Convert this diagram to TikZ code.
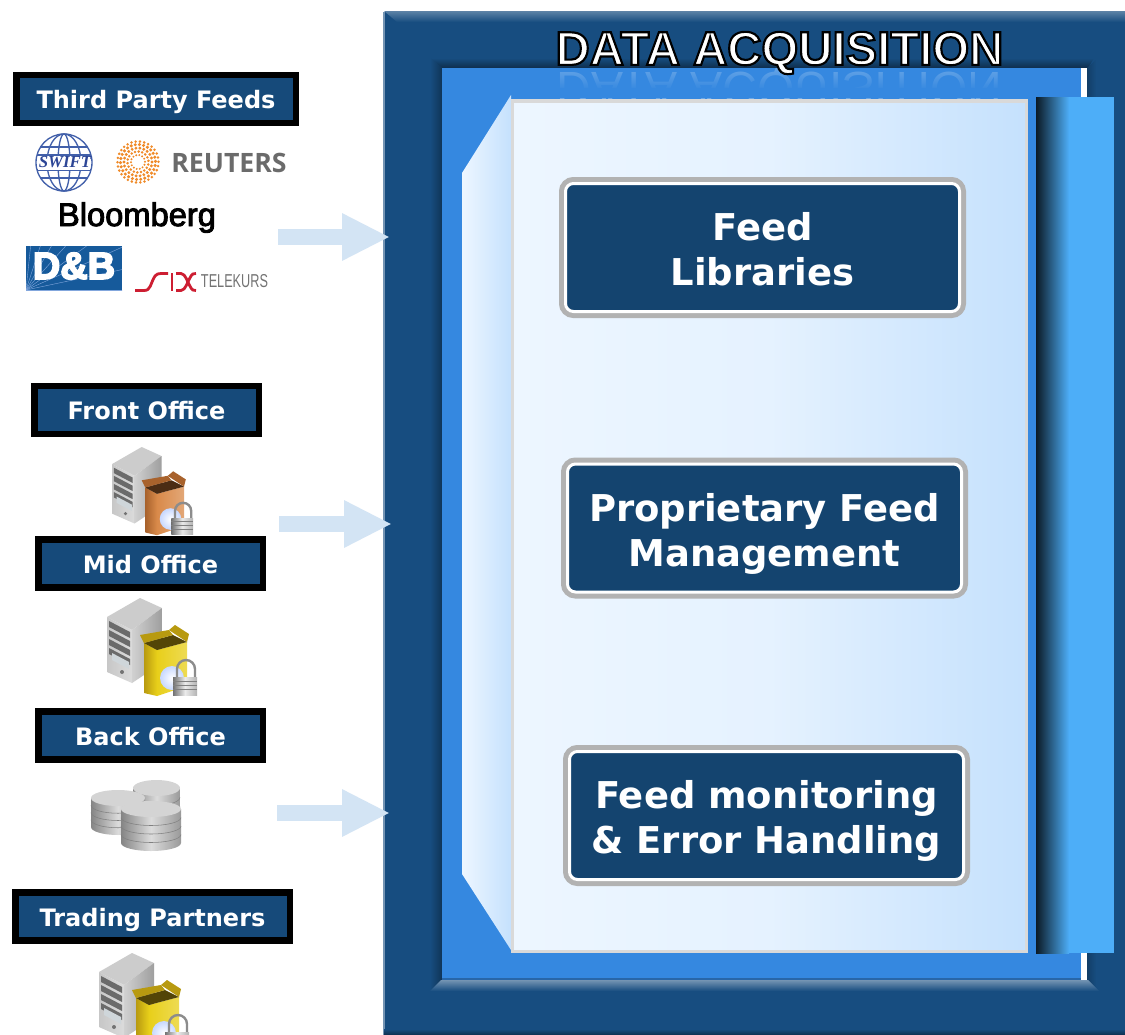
\documentclass[tikz,border=0pt]{standalone}
\usepackage{fontspec}
\usetikzlibrary{arrows.meta,fadings}
\setmainfont{DejaVu Sans}
\newfontfamily\arialf{Liberation Sans}
\newfontfamily\serfi{Liberation Serif}
\newfontfamily\openf{Open Sans}
\def\pxu{.75pt}
\definecolor{navy}{HTML}{14446F}
\definecolor{lblnavy}{HTML}{164A7A}
\definecolor{frameblue}{HTML}{174D80}
\definecolor{innerblue}{HTML}{3588E0}
\definecolor{arrowblue}{HTML}{D3E4F4}
\definecolor{barblue}{HTML}{4DAEF8}
\definecolor{pageL}{HTML}{EDF6FF}
\definecolor{pageR}{HTML}{C5E1FD}
\definecolor{reuterso}{HTML}{F08A28}
\definecolor{boxorange}{HTML}{D98A4A}
\definecolor{boxorangeD}{HTML}{A8622C}
\definecolor{boxyellow}{HTML}{E8CF1A}
\definecolor{boxyellowD}{HTML}{B89A10}
\colorlet{boxgrey}{black!30}
\tikzset{
  label box/.style={draw=black,fill=lblnavy,line width=6.5*\pxu,text=white,inner sep=0pt,outer sep=0pt,
    text height=14.64pt,text depth=0pt,font=\bfseries\fontsize{18pt}{20pt}\selectfont},
  feed box/.style={preaction={draw=boxgrey,line width=13*\pxu},draw=white,line width=3*\pxu,fill=navy,rounded corners=6pt,
    text=white,inner sep=0pt,outer sep=0pt,minimum width=394*\pxu,minimum height=128*\pxu,align=center,
    text height=57pt,text depth=0pt,font=\bfseries\fontsize{27.7pt}{33.75pt}\selectfont},
  flow arrow/.style={draw=arrowblue,line width=16*\pxu,-{Triangle[length=48*\pxu,width=44*\pxu]}},
  pics/servericon/.style 2 args={code={
    \fill[black!20] (0,19)--(33,0)--(55,10)--(25,32)--cycle;
    \shade[left color=black!22,right color=black!14] (0,19)--(25,32)--(25,85)--(0,74)--cycle;
    \shade[left color=black!18,right color=black!38] (25,32)--(55,10)--(55,65)--(25,85)--cycle;
    \foreach \v in {0,9,18,27}{\fill[black!58] (2,23+\v)--(23,34+\v)--(23,40+\v)--(2,29+\v)--cycle;}
    \fill[cyan!25!black!22] (5,55)--(22,64)--(22,71)--(5,62)--cycle;
    \fill[black!55] (15,74) circle (2);
    \shade[left color=#2,right color=#1] (37,45)--(50,52)--(50,98)--(37,95)--cycle;
    \shade[left color=#1,right color=#1!75!white] (50,52)--(80,44)--(80,88)--(50,98)--cycle;
    \fill[#2!45!black] (37,45)--(66,37)--(80,44)--(50,52)--cycle;
    \fill[#2] (33,37)--(62,32)--(66,37)--(37,45)--cycle;
    \fill[#2] (62,32)--(68,27)--(82,36)--(80,44)--cycle;
    \shade[inner color=white,outer color=cyan!30!blue!22!white] (65,80) circle (12);
    \draw[black!45,line width=2.4*.75pt] (70,80)--(70,71) arc[start angle=180,end angle=360,radius=9]--(88,80);
    \shade[left color=black!55,right color=black!30,middle color=black!8] (66,79) rectangle (90,97);
    \foreach \v in {83,87,91}{\draw[black!50,line width=.5] (66,\v)--(90,\v);}
  }},
  drum/.style={left color=black!48,right color=black!40,middle color=black!14},
}
\newcommand{\cylinder}[4]{% x1,x2,top,bottom
  \pgfmathsetmacro{\cx}{(#1+#2)/2}\pgfmathsetmacro{\rx}{(#2-#1)/2}
  \shade[drum] (#1,#3) -- (#1,#4) arc[start angle=180,end angle=360,x radius=\rx,y radius=-8] -- (#2,#3) -- cycle;
  \foreach \f in {.25,.5,.75}{
    \pgfmathsetmacro{\yy}{#3+\f*(#4-#3)}
    \draw[black!50,line width=.4] (#1,\yy) arc[start angle=180,end angle=360,x radius=\rx,y radius=-8];}
  \fill[black!17] (\cx,#3) ellipse[x radius=\rx,y radius=8];
}
\begin{document}
\begin{tikzpicture}[x=.75pt,y=-.75pt]
\clip (0,0) rectangle (1125,1035);
\fill[white] (0,0) rectangle (1125,1035);
% ---- outer frame
\node[fill=frameblue,inner sep=0pt,outer sep=0pt,minimum width=741*\pxu,minimum height=1023*\pxu,anchor=north west] (frame) at (384,12) {};
\draw[frameblue!60!white,line width=.8] (384,12)--(384,1035);
\shade[top color=frameblue!70!white,middle color=frameblue!62!white,bottom color=frameblue] (384,11)--(1125,11)--(1125,22)--(397,22)--cycle;
\shade[top color=frameblue,bottom color=black!40!frameblue] (384,1029) rectangle (1125,1035);
% inner shadows / bevels
\shade[top color=frameblue,bottom color=black!40!frameblue] (430,58)--(1094,58)--(1088,68)--(442,68)--cycle;
\shade[left color=frameblue,right color=black!32!frameblue] (430,58)--(442,68)--(442,980)--(430,991)--cycle;
\shade[left color=black!20!frameblue,right color=frameblue] (1087,68)--(1096,60)--(1096,990)--(1087,980)--cycle;
\fill[white] (1080,68) rectangle (1087,980);
\fill[innerblue] (442,68) rectangle (1081,980);
\fill[black!25!innerblue] (442,977.5) rectangle (1081,980);
\shade[top color=frameblue!60!white,bottom color=frameblue] (441,980)--(1088,980)--(1099,991)--(430,991)--cycle;
% ---- title with reflection
\begin{scope}
  \clip (442,68) rectangle (1081,98);
  \node[text=white,opacity=.28,yscale=-1,transform shape,inner sep=0pt,font=\arialf\fontsize{36pt}{36pt}\selectfont] (titlerefl) at (779.5,85) {DATA ACQUISITION};
  \fill[innerblue,path fading=north] (442,64) rectangle (1081,90);
  \fill[innerblue] (442,88) rectangle (1081,98);
\end{scope}
\node[text=white,inner sep=0pt,font=\arialf\bfseries\fontsize{35.5pt}{35pt}\selectfont] (title) at (779.5,53)
  {\special{pdf:code 2 Tr 1.6 w 0 0 0 RG 1 1 1 rg}DATA ACQUISITION\special{pdf:code 0 Tr}};
% ---- page and flap
\shade[left color=pageL,right color=pageR] (462,173)--(511,95)--(511,950)--(462,874)--cycle;
\fill[black!15] (511,99) rectangle (1028,953);
\shade[left color=pageL,right color=pageR,middle color=pageL!80!pageR] (514,103) rectangle (1025,949);
% ---- right bar
\shade[left color=black!85!barblue,right color=barblue] (1036,97) rectangle (1069,953);
\fill[barblue] (1069,97) rectangle (1114,953);
% ---- feed boxes
\node[feed box] (fb1) at (762.5,247.5) {Feed\\Libraries};
\node[feed box] (fb2) at (764.5,528) {Proprietary Feed\\Management};
\node[feed box] (fb3) at (766.5,815.5) {Feed monitoring\\\& Error Handling};
% ---- source labels
\node[label box,minimum width=279.5*\pxu,minimum height=48*\pxu,text height=14pt] (tpf) at (156,99) {Third Party Feeds};
\node[label box,minimum width=224.5*\pxu,minimum height=48*\pxu] (fo) at (146.5,410) {Front Office};
\node[label box,minimum width=224.5*\pxu,minimum height=48*\pxu] (mo) at (150.5,563.5) {Mid Office};
\node[label box,minimum width=224.5*\pxu,minimum height=48*\pxu] (bo) at (150.5,735.5) {Back Office};
\node[label box,minimum width=274.5*\pxu,minimum height=48*\pxu] (tp) at (152.5,916.5) {Trading Partners};
% ---- arrows
\coordinate (a1s) at (278,237); \coordinate (a1e) at (390,237);
\coordinate (a2s) at (279,524); \coordinate (a2e) at (392,524);
\coordinate (a3s) at (277,813); \coordinate (a3e) at (390,813);
\draw[flow arrow] (a1s)--(a1e);
\draw[flow arrow] (a2s)--(a2e);
\draw[flow arrow] (a3s)--(a3e);
% ---- SWIFT logo
\begin{scope}[draw={rgb,255:red,66;green,96;blue,170},line width=1]
  \coordinate (sw) at (64,162.5);
  \draw (sw) ellipse[x radius=28,y radius=28.5];
  \draw (sw) ellipse[x radius=17,y radius=28.5];
  \draw (sw) ellipse[x radius=6,y radius=28.5];
  \draw (40,147)--(88,147) (37,155)--(91,155) (37,170)--(91,170) (40,178)--(88,178);
  \fill[white] (38,155.5) rectangle (90,169.5);
\end{scope}
\node[text={rgb,255:red,45;green,70;blue,150},inner sep=0pt,font=\serfi\bfseries\itshape\fontsize{12.6pt}{14pt}\selectfont] (swift) at (65,162.5) {SWIFT};
% ---- Reuters logo
\foreach \r/\s/\n in {7/1.1/14,10.5/1.4/18,14/1.6/22,17.5/1.7/26,20.5/1.4/30}{
  \foreach \i in {1,...,\n}{
    \fill[reuterso] (138,162)++({360*\i/\n+\r*7}:{\r}) circle ({\s});
  }
}
\node[text=black!58,inner sep=0pt,font=\openf\bfseries\fontsize{20pt}{20pt}\selectfont] (reuters) at (229,163) {REUTERS};
% ---- Bloomberg
\node[text=black,inner sep=0pt,anchor=base,font=\arialf\fontsize{24.5pt}{25pt}\selectfont] (bloom) at (137,226)
  {\special{pdf:code 2 Tr .7 w 0 0 0 RG}Bloomberg\special{pdf:code 0 Tr}};
% ---- D&B
\node[fill={rgb,255:red,22;green,90;blue,155},minimum width=96*\pxu,minimum height=44*\pxu,inner sep=0pt,outer sep=0pt] (dnbbg) at (74,268) {};
\begin{scope}
  \clip (26,246) rectangle (122,290);
  \foreach \a in {0,12,...,84}{\draw[cyan!50!blue!50!white,line width=.3] (26,290)--++(-\a:120);}
\end{scope}
\node[text=white,inner sep=0pt,font=\arialf\bfseries\fontsize{28.5pt}{28pt}\selectfont] (dnb) at (74,266)
  {\special{pdf:code 2 Tr 1.2 w 1 1 1 RG 1 1 1 rg}D\&B\special{pdf:code 0 Tr}};
% ---- SIX Telekurs
\begin{scope}[draw={rgb,255:red,205;green,30;blue,50},line width=2.1,line cap=butt]
  \draw (135,290.5)--(144,290.5) .. controls (151,290.5) and (150,284) .. (155,276) .. controls (157,274) and (158,273.5) .. (161,273.5)--(168,273.5);
  \draw (172,273)--(172,291);
  \draw (176,273.5)--(181,273.5) .. controls (186,274) and (187,282) .. (191,288) .. controls (192,290) and (193,290.5) .. (196,290.5);
  \draw (176,290.5)--(181,290.5) .. controls (186,290) and (187,282) .. (191,276) .. controls (192,274) and (193,273.5) .. (196,273.5);
\end{scope}
\node[text=black!55,inner sep=0pt,xscale=.68,transform shape,font=\arialf\fontsize{14pt}{15pt}\selectfont] (telekurs) at (234.5,281.5) {TELEKURS};
% ---- icons
\pic[scale=.9] at (112,447) {servericon={boxorange}{boxorangeD}};
\pic at (107,598) {servericon={boxyellow}{boxyellowD}};
\pic at (99,953) {servericon={boxyellow}{boxyellowD}};
\cylinder{133}{180}{788}{825}
\cylinder{91}{145}{798}{827}
\cylinder{121}{181}{809}{843}
\end{tikzpicture}
\end{document}
